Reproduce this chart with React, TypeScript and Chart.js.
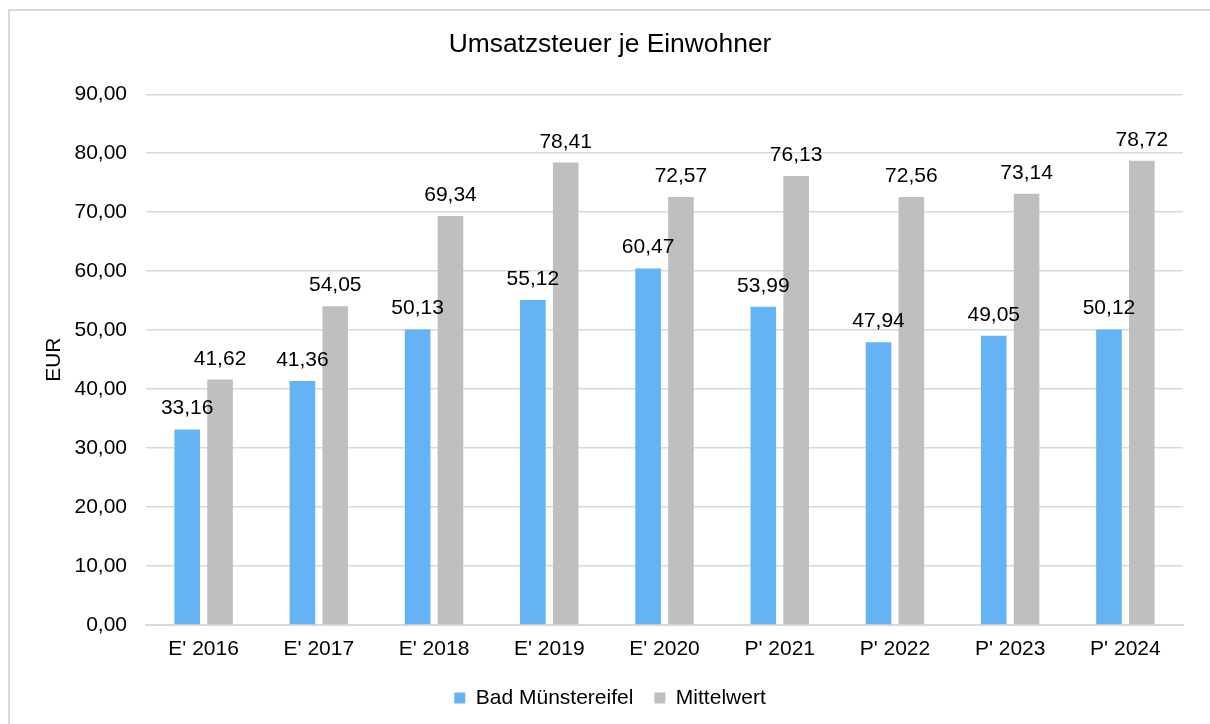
import React, { useEffect, useRef } from "react";
import { Chart, registerables } from "chart.js";

Chart.register(...registerables);

const categories = ["E' 2016", "E' 2017", "E' 2018", "E' 2019", "E' 2020", "P' 2021", "P' 2022", "P' 2023", "P' 2024"];
const badMuenstereifel = [33.16, 41.36, 50.13, 55.12, 60.47, 53.99, 47.94, 49.05, 50.12];
const mittelwert = [41.62, 54.05, 69.34, 78.41, 72.57, 76.13, 72.56, 73.14, 78.72];
const seriesNames = ["Bad Münstereifel", "Mittelwert"];
const titleText = "Umsatzsteuer je Einwohner";
const yAxisTitle = "EUR";

const FONT = "'Liberation Sans', Arial, sans-serif";
const fmt = (v: number) => v.toFixed(2).replace(".", ",");

const dataLabels = {
  id: "dataLabels",
  afterDatasetsDraw(chart: any) {
    const ctx = chart.ctx;
    ctx.save();
    ctx.font = `21px ${FONT}`;
    ctx.fillStyle = "#000";
    ctx.textAlign = "center";
    ctx.textBaseline = "alphabetic";
    chart.data.datasets.forEach((ds: any, di: number) => {
      const meta = chart.getDatasetMeta(di);
      meta.data.forEach((el: any, i: number) => {
        ctx.fillText(fmt(ds.data[i]), el.x, el.y - 15);
      });
    });
    ctx.restore();
  },
};

export default function App() {
  const ref = useRef<HTMLCanvasElement>(null);
  useEffect(() => {
    document.documentElement.style.overflow = "hidden";
    document.body.style.overflow = "hidden";
    const chart = new Chart(ref.current!, {
      type: "bar",
      data: {
        labels: categories,
        datasets: [
          { label: seriesNames[0], data: badMuenstereifel, backgroundColor: "#63B3F5", yAxisID: "y", categoryPercentage: 0.57, barPercentage: 0.78 },
          { label: seriesNames[1], data: mittelwert, backgroundColor: "#BFBFBF", yAxisID: "y", categoryPercentage: 0.57, barPercentage: 0.78 },
        ],
      },
      options: {
        responsive: false,
        animation: false,
        devicePixelRatio: 1,
        layout: { padding: { left: 0, right: 0, top: 0, bottom: 5.5 } },
        plugins: {
          tooltip: { enabled: false },
          title: {
            display: true,
            text: titleText,
            color: "#000",
            font: { family: FONT, size: 26.4, weight: "normal" },
            padding: { top: 17.5, bottom: 34.1 },
          },
          legend: {
            position: "bottom",
            labels: {
              color: "#000",
              font: { family: FONT, size: 21 },
              boxWidth: 11,
              boxHeight: 11,
              padding: 21,
            },
          },
        },
        scales: {
          x: {
            grid: { display: false, drawTicks: false },
            border: { display: true, color: "#d9d9d9", width: 2 },
            ticks: { color: "#000", font: { family: FONT, size: 21 }, padding: 12, maxRotation: 0 },
            afterFit: (s: any) => { s.height = 41.5; },
          },
          y: {
            min: 0,
            max: 90,
            grid: { color: "#d9d9d9", lineWidth: 1.5, drawTicks: false },
            border: { display: false },
            ticks: { stepSize: 10, color: "#000", font: { family: FONT, size: 21 }, padding: 19, callback: (v: any) => fmt(Number(v)) },
            title: { display: true, text: yAxisTitle, color: "#000", font: { family: FONT, size: 21 }, padding: { top: 32.1, bottom: 0 } },
            afterFit: (s: any) => { s.width = 136; },
          },
          yR: {
            type: "linear",
            position: "right",
            display: true,
            grid: { display: false, drawTicks: false },
            border: { display: false },
            ticks: { display: false },
            afterFit: (s: any) => { s.width = 27; },
          },
        },
      },
      plugins: [dataLabels],
    } as any);
    return () => chart.destroy();
  }, []);
  return (
    <div style={{ position: "fixed", left: 8, top: 9, width: 1240, height: 760, borderTop: "2px solid #d9d9d9", borderLeft: "2px solid #d9d9d9", boxSizing: "border-box", background: "#fff" }}>
      <canvas ref={ref} width={1200} height={713} style={{ display: "block", width: 1200, height: 713 }} />
    </div>
  );
}
